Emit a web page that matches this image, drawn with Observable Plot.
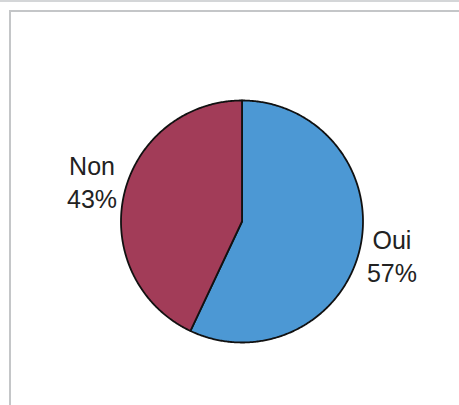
<!DOCTYPE html>
<html>
<head>
<meta charset="utf-8">
<script src="https://cdn.jsdelivr.net/npm/d3@7"></script>
<script src="https://cdn.jsdelivr.net/npm/@observablehq/plot@0.6"></script>
<style>
  html, body { margin: 0; padding: 0; background: #fff; }
  #wrap { position: relative; width: 459px; height: 405px; overflow: hidden; }
  #frame { position: absolute; left: 9px; top: 10px; width: 470px; height: 420px;
           border-left: 2px solid #c4c6c8; border-top: 2px solid #c4c6c8; pointer-events: none; }
  #edge { position: absolute; left: 0; top: 0; width: 459px; height: 2px; background: #d4d6d8; }
  svg { display: block; }
</style>
</head>
<body>
<div id="wrap"><div id="edge"></div><div id="frame"></div></div>
<script>
const categories = ["Oui", "Non"];
const values = [57, 43];
const labels = ["Oui\n57%", "Non\n43%"];
const colors = ["#4c98d4", "#a23c58"];

// Pie angles from the data (clockwise from top)
const arcs = d3.pie().sort(null)(values);
const slices = [];
arcs.forEach((a, i) => {
  slices.push({cat: categories[i], x: 0, y: 0});
  const n = Math.max(2, Math.ceil((a.endAngle - a.startAngle) / 0.01));
  for (let k = 0; k <= n; k++) {
    const t = a.startAngle + (a.endAngle - a.startAngle) * k / n;
    slices.push({cat: categories[i], x: Math.sin(t), y: Math.cos(t)});
  }
  slices.push({cat: categories[i], x: 0, y: 0});
});
const labelData = arcs.map((a, i) => {
  const m = (a.startAngle + a.endAngle) / 2;
  return {cat: categories[i], text: labels[i], x: 1.27 * Math.sin(m), y: 1.39 * Math.cos(m) + 0.03};
});

const chart = Plot.plot({
  width: 459,
  height: 405,
  margin: 0,
  x: {domain: [-1, 1], range: [120.5, 362.5], axis: null},
  y: {domain: [-1, 1], range: [342, 100], axis: null},
  color: {domain: categories, range: colors},
  style: {background: "transparent", fontFamily: "'Liberation Sans', Arial, sans-serif"},
  marks: [
    Plot.line(slices, {x: "x", y: "y", z: "cat", fill: "cat", stroke: "#111", strokeWidth: 1.8, strokeLinejoin: "round", curve: "linear"}),
    Plot.text(labelData, {x: "x", y: "y", text: "text", fontSize: 25, lineHeight: 1.32, fill: "#222", textAnchor: "middle"})
  ]
});
document.getElementById("wrap").prepend(chart);
</script>
</body>
</html>
